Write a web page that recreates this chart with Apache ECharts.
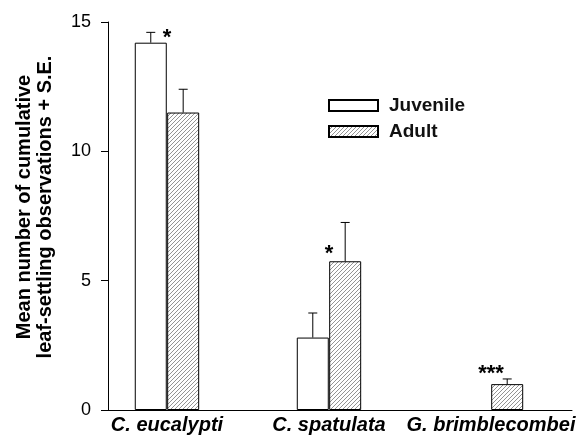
<!DOCTYPE html>
<html>
<head>
<meta charset="utf-8">
<script src="https://cdn.jsdelivr.net/npm/echarts@6/dist/echarts.min.js"></script>
<style>html,body{margin:0;padding:0;background:#fff;}#c{width:583px;height:435px;}</style>
</head>
<body>
<div id="c"></div>
<script>
const categories = ['C. eucalypti', 'C. spatulata', 'G. brimblecombei'];
const juvenileMean = [14.2, 2.8, null];
const juvenileSE = [0.4, 0.95, null];
const adultMean = [11.5, 5.75, 1.0];
const adultSE = [0.9, 1.5, 0.2];
const sigText = ['*', '*', '***'];
const sigY = [14.4, 6.05, 1.4];
const yTicks = [0, 5, 10, 15];

const OFF = 0.1;
const hatch = document.createElement('canvas');
hatch.width = 4; hatch.height = 4;
(function(){
  const g = hatch.getContext('2d');
  g.fillStyle = '#fff'; g.fillRect(0,0,4,4);
  g.strokeStyle = '#666'; g.lineWidth = 0.7;
  g.beginPath();
  g.moveTo(0,4); g.lineTo(4,0);
  g.moveTo(-1,1); g.lineTo(1,-1);
  g.moveTo(3,5); g.lineTo(5,3);
  g.stroke();
})();

const juvData = categories.map((c,i)=> juvenileMean[i]==null ? null : [i-OFF, juvenileMean[i]]).filter(d=>d);
const adData = categories.map((c,i)=> adultMean[i]==null ? null : [i+OFF, adultMean[i]]).filter(d=>d);
const errData = [];
categories.forEach((c,i)=>{
  if (juvenileMean[i]!=null) errData.push([i-OFF, juvenileMean[i], juvenileSE[i]]);
  if (adultMean[i]!=null) errData.push([i+OFF, adultMean[i], adultSE[i]]);
});
const sigData = categories.map((c,i)=>[i, sigY[i]]);

const chart = echarts.init(document.getElementById('c'));
const font = 'Liberation Sans, Arial, sans-serif';
chart.setOption({
  animation: false,
  grid: {left: 108, right: 11, top: 22, bottom: 25, containLabel: false},
  legend: {
    orient: 'vertical', left: 323, top: 91, itemWidth: 49, itemHeight: 11, itemGap: 7,
    icon: 'rect', data: ['Juvenile', 'Adult'],
    textStyle: {fontFamily: font, fontWeight: 'bold', fontSize: 19, color: '#111', padding: [0,0,0,6]}
  },
  xAxis: {
    type: 'value', min: -0.364, max: 2.5,
    splitLine: {show: false},
    axisLine: {show: true, onZero: false, lineStyle: {color: '#000', width: 1}},
    axisTick: {show: false},
    axisLabel: {
      customValues: [0,1,2],
      formatter: v => categories[Math.round(v)] || '',
      fontFamily: font, fontWeight: 'bold', fontStyle: 'italic', fontSize: 20, color: '#000', margin: 5
    }
  },
  yAxis: {
    type: 'value', min: 0, max: 15, interval: 5,
    splitLine: {show: false},
    axisLine: {show: true, onZero: false, lineStyle: {color: '#000', width: 1}},
    axisTick: {show: true, length: 7, lineStyle: {color: '#000'}},
    axisLabel: {fontFamily: font, fontSize: 18, color: '#000', margin: 17,
      formatter: v => yTicks.includes(v) ? String(v) : ''}
  },
  graphic: [{
    type: 'text', x: 35, y: 207, rotation: Math.PI/2,
    style: {text: 'Mean number of cumulative\nleaf-settling observations + S.E.', fontFamily: font, fontWeight: 'bold', fontSize: 20, lineHeight: 21, fill: '#000', align: 'center', verticalAlign: 'middle'}
  }],
  series: [
    {name: 'Juvenile', type: 'bar', data: juvData, barWidth: 32, barGap: '-100%',
      itemStyle: {color: '#fff', borderColor: '#000', borderWidth: 1}},
    {name: 'Adult', type: 'bar', data: adData, barWidth: 32, barGap: '-100%',
      itemStyle: {color: {image: hatch, repeat: 'repeat'}, borderColor: '#000', borderWidth: 1}},
    {type: 'custom', data: errData, z: 5, silent: true,
      renderItem: (params, api) => {
        const x = api.value(0), y = api.value(1), se = api.value(2);
        const p0 = api.coord([x, y]), p1 = api.coord([x, y+se]);
        const st = {stroke: '#000', lineWidth: 1};
        return {type: 'group', children: [
          {type: 'line', shape: {x1: p0[0], y1: p0[1], x2: p1[0], y2: p1[1]}, style: st},
          {type: 'line', shape: {x1: p1[0]-4.5, y1: p1[1], x2: p1[0]+4.5, y2: p1[1]}, style: st}
        ]};
      }},
    {type: 'custom', data: sigData, z: 6, silent: true,
      renderItem: (params, api) => {
        const p = api.coord([api.value(0), api.value(1)]);
        return {type: 'text', x: p[0], y: p[1],
          style: {text: sigText[params.dataIndex], fontFamily: font, fontWeight: 'bold', fontSize: 22, fill: '#000', align: 'center', verticalAlign: 'middle'}};
      }}
  ]
});
</script>
</body>
</html>
